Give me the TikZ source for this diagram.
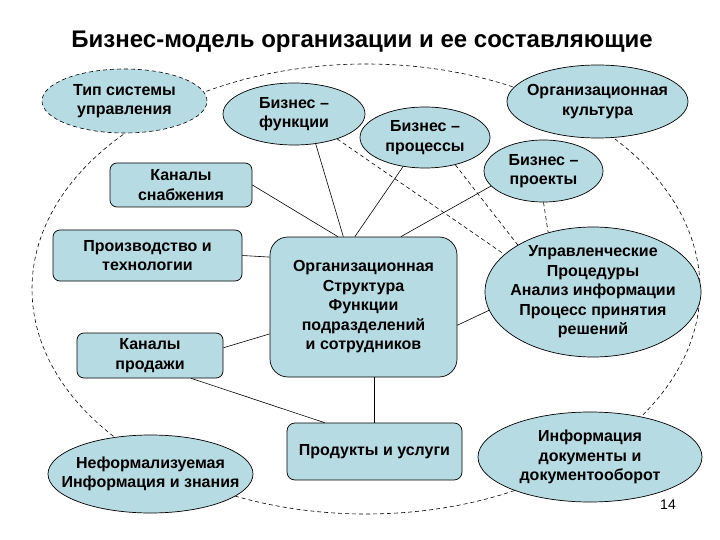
\documentclass[tikz,border=0pt]{standalone}
\usepackage{fontspec}
\setmainfont{Liberation Sans}
\usepackage{tikz}
\usetikzlibrary{shapes.geometric, calc}

\definecolor{fon}{RGB}{183,219,226}

\tikzset{
    oval/.style={ellipse, draw, fill=fon, line width=0.7pt, inner sep=-22pt,
        align=center, font=\bfseries\fontsize{16}{19.5}\selectfont},
    blok/.style={rectangle, draw, fill=fon, line width=0.7pt, rounded corners=7pt,
        inner sep=0pt, align=center, font=\bfseries\fontsize{16}{19.5}\selectfont},
    svyaz/.style={line width=0.6pt},
    punkt/.style={line width=0.6pt, dash pattern=on 4pt off 3pt},
}

\begin{document}
\begin{tikzpicture}[x=1pt, y=-1pt]
    \useasboundingbox (0,0) rectangle (720,540);

    \node[font=\bfseries\fontsize{24}{28}\selectfont] (titul) at (362,42)
        {Бизнес-модель организации и ее составляющие};

    % bolshoj punktirnyj oval
    \draw[punkt] (366,289) ellipse [x radius=334pt, y radius=225pt];

    % ovaly
    \node[oval, punkt, minimum width=165pt, minimum height=64pt] (tip) at (124.5,101)
        {Тип системы\\управления};
    \node[oval, minimum width=142pt, minimum height=62pt] (bfunk) at (294,114)
        {Бизнес –\\функции};
    \node[oval, minimum width=130pt, minimum height=61pt] (bproc) at (425,137.5)
        {Бизнес –\\процессы};
    \node[oval, minimum width=181pt, minimum height=73pt] (kult) at (597.5,101.5)
        {Организационная\\культура};
    \node[oval, minimum width=119pt, minimum height=62pt] (bproj) at (543.5,171)
        {Бизнес –\\проекты};
    \node[oval, minimum width=216pt, minimum height=130pt] (uprav) at (593,292)
        {Управленческие\\Процедуры\\Анализ информации\\Процесс принятия\\решений};
    \node[oval, minimum width=205pt, minimum height=78pt] (neform) at (150.5,474)
        {Неформализуемая\\Информация и знания};
    \node[oval, minimum width=224pt, minimum height=90pt] (infdok) at (590,457)
        {Информация\\документы и\\документооборот};

    % bloki
    \node[blok, minimum width=142pt, minimum height=44pt] (snab) at (181,185)
        {Каналы\\снабжения};
    \node[blok, minimum width=189pt, minimum height=51pt] (proizv) at (147.5,255.5)
        {Производство и\\технологии};
    \node[blok, minimum width=146pt, minimum height=45pt] (prodazh) at (150,355.5)
        {Каналы\\продажи};
    \node[blok, rounded corners=18pt, minimum width=187pt, minimum height=140pt] (orgstr) at (363.5,307)
        {Организационная\\Структура\\Функции\\подразделений\\и сотрудников};
    \node[blok, rounded corners=8pt, minimum width=175pt, minimum height=57pt] (produkt) at (374.5,451.5)
        {Продукты и услуги};

    \node[font=\fontsize{14}{16}\selectfont] (nomer) at (668,505) {14};

    % svyazi
    \draw[svyaz] (snab.east) -- (orgstr.110);
    \draw[svyaz] (bfunk.-54) -- (orgstr.106);
    \draw[svyaz] (bproc.233) -- (orgstr.97);
    \draw[svyaz] (bproj.196) -- (orgstr.62);
    \draw[svyaz] (proizv.east) -- (orgstr.152);
    \draw[svyaz] (prodazh.6) -- (orgstr.196);
    \draw[svyaz] (orgstr.-11) -- (uprav.190);
    \draw[svyaz] (produkt.north |- orgstr.south) -- (produkt.north);
    \draw[svyaz] (prodazh.-29) -- (produkt.150);

    \draw[punkt] (bfunk.-30) -- (uprav.157);
    \draw[punkt] (bproc.-42) -- (uprav.148);
    \draw[punkt] (bproj.south) -- (uprav.127);

\end{tikzpicture}
\end{document}
